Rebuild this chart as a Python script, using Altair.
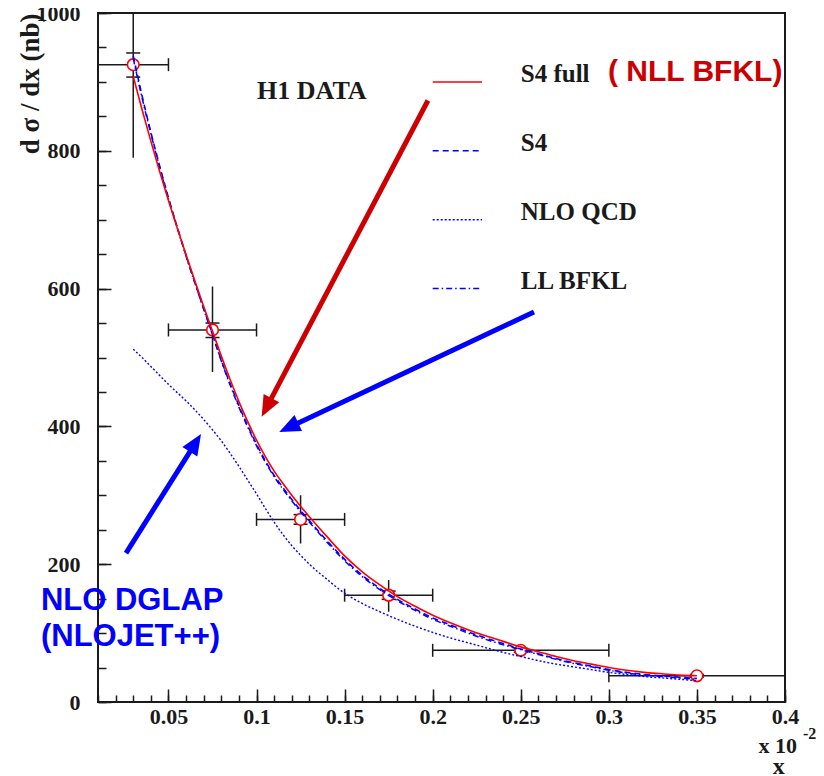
import math
import altair as alt
import pandas as pd

# ---------------- data ----------------
x_curve = [0.030, 0.035, 0.040, 0.045, 0.050, 0.055, 0.060, 0.065, 0.070, 0.075,
           0.080, 0.085, 0.090, 0.095, 0.100, 0.105, 0.110, 0.115, 0.120, 0.125,
           0.130, 0.140, 0.150, 0.160, 0.170, 0.180, 0.190, 0.200, 0.210, 0.220,
           0.230, 0.240, 0.250, 0.260, 0.270, 0.280, 0.290, 0.300, 0.310, 0.320,
           0.330, 0.340, 0.350]
s4full_y = [908, 860, 814, 770, 728, 688, 649, 611, 574, 538,
            502, 468, 436, 407, 380, 356, 335, 317, 300, 284,
            269, 240, 212, 189, 170, 153, 139, 126, 115, 105,
            96, 88, 80, 73, 66, 60, 55, 50, 46, 43,
            41, 39, 38]
s4_y = [938, 880, 827, 778, 732, 689, 648, 609, 571, 534,
        496, 462, 430, 401, 374, 350, 329, 311, 294, 278,
        263, 234, 207, 184, 165, 149, 135, 122, 112, 102,
        93, 85, 77, 70, 63, 57, 52, 47, 43, 40,
        38, 36, 34]
llbfkl_y = [934, 877, 825, 776, 730, 688, 647, 608, 570, 533,
            495, 460, 428, 399, 372, 348, 327, 309, 292, 276,
            261, 232, 205, 182, 163, 147, 133, 120, 110, 100,
            91, 83, 76, 69, 62, 56, 51, 46, 42, 39,
            37, 35, 33]
nloqcd_y = [512, 500, 487, 474, 461, 449, 437, 424, 410, 395,
            379, 361, 342, 322, 302, 281, 261, 243, 227, 213,
            200, 178, 158, 143, 131, 120, 110, 101, 93, 86,
            79, 72, 66, 60, 55, 51, 47, 43, 40, 37,
            35, 33, 31]

data_x = [0.03, 0.075, 0.125, 0.175, 0.25, 0.35]
data_y = [925, 540, 265, 155, 75, 38]
data_xlo = [0.01, 0.05, 0.10, 0.15, 0.20, 0.30]
data_xhi = [0.05, 0.10, 0.15, 0.20, 0.30, 0.40]
data_ylo = [790, 479, 230, 131, 72, 36]
data_yhi = [1060, 603, 300, 177, 78, 40]
stat_lo = [907, 529, 258, 149, 72, 36]
stat_hi = [942, 550, 272, 161, 78, 40]

legend_labels = ["S4 full", "S4", "NLO QCD", "LL BFKL"]

x_tick_major = [0.05, 0.1, 0.15, 0.2, 0.25, 0.3, 0.35, 0.4]
x_tick_minor = [round(0.01 * i, 2) for i in range(1, 41)]
y_tick_major = [0, 200, 400, 600, 800, 1000]
y_tick_minor = [50 * i for i in range(0, 21)]

# ---------------- layout ----------------
W, H = 687, 689
XDOM = [0.01, 0.4]
YDOM = [0, 1000]
SX = W / (XDOM[1] - XDOM[0])
SY = H / (YDOM[1] - YDOM[0])
SERIF = "Liberation Serif"
SANS = "Liberation Sans"
INK = "#1a1a1a"
RED = "#ff0000"
BLUE = "#0000ff"
DARKRED = "#cc0000"

legend_rows_y = [900, 800, 700, 600]
legend_x0, legend_x1, legend_text_x = 0.2, 0.228, 0.25

arrow_x0 = [0.1973, 0.2575, 0.0259]
arrow_y0 = [873, 566, 216]
arrow_x1 = [0.1029, 0.1129, 0.0685]
arrow_y1 = [414, 392, 389]
arrow_color = [DARKRED, BLUE, BLUE]
HEAD = 21


def xs():
    return alt.Scale(domain=XDOM, nice=False, zero=False)


def ys():
    return alt.Scale(domain=YDOM, nice=False, zero=False)


def X(f, axis=None):
    return alt.X(f, type="quantitative", scale=xs(), axis=axis)


def Y(f, axis=None):
    return alt.Y(f, type="quantitative", scale=ys(), axis=axis)


ax_x_labels = alt.Axis(values=x_tick_major, orient="bottom", ticks=False, tickSize=0,
                       domain=False, grid=False, labelFont=SERIF, labelFontWeight="bold",
                       labelFontSize=22, labelColor=INK, labelPadding=4, labelFlush=False,
                       labelOverlap=False, format="~g", title=None)
ax_y_labels = alt.Axis(values=y_tick_major, orient="left", ticks=False, tickSize=0,
                       domain=False, grid=False, labelFont=SERIF, labelFontWeight="bold",
                       labelFontSize=22, labelColor=INK, labelPadding=18, labelFlush=False,
                       labelOverlap=False, format="d",
                       title="d σ / dx (nb)", titleFont=SERIF, titleFontWeight="bold",
                       titleFontSize=27, titleColor=INK, titleAngle=270, titleAlign="right",
                       titleBaseline="middle", titleX=-68, titleY=0)
ax_x_minor = alt.Axis(values=x_tick_minor, orient="top", offset=-H, ticks=True, tickSize=7,
                      tickWidth=1.5, tickColor=INK, labels=False, domain=False, grid=False,
                      title=None)
ax_y_minor = alt.Axis(values=y_tick_minor, orient="right", offset=-W, ticks=True, tickSize=8,
                      tickWidth=1.5, tickColor=INK, labels=False, domain=False, grid=False,
                      title=None)
ax_x_major = alt.Axis(values=x_tick_major, orient="top", offset=-H, ticks=True, tickSize=13,
                      tickWidth=1.5, tickColor=INK, labels=False, domain=False, grid=False,
                      title=None)
ax_y_major = alt.Axis(values=y_tick_major, orient="right", offset=-W, ticks=True, tickSize=13,
                      tickWidth=1.5, tickColor=INK, labels=False, domain=False, grid=False,
                      title=None)

# ---------------- tables ----------------
pts = pd.DataFrame({"x": data_x, "y": data_y, "xlo": data_xlo, "xhi": data_xhi,
                    "ylo": data_ylo, "yhi": data_yhi, "slo": stat_lo, "shi": stat_hi})


def curve_df(yvals):
    return pd.DataFrame({"x": x_curve, "y": yvals})


arrows = []
for x0, y0, x1, y1, c in zip(arrow_x0, arrow_y0, arrow_x1, arrow_y1, arrow_color):
    dxp = (x1 - x0) * SX
    dyp = -(y1 - y0) * SY
    L = math.hypot(dxp, dyp)
    ux, uy = dxp / L, dyp / L
    ang = math.degrees(math.atan2(dxp, -dyp)) % 360
    back = HEAD * 0.75
    arrows.append({"x0": x0, "y0": y0, "x1": x1, "y1": y1,
                   "xe": x1 - ux * back / SX, "ye": y1 + uy * back / SY,
                   "angle": ang, "color": c})
arrows = pd.DataFrame(arrows)

legend_df = pd.DataFrame({"label": legend_labels, "y": legend_rows_y,
                          "x0": [legend_x0] * 4, "x1": [legend_x1] * 4,
                          "tx": [legend_text_x] * 4})

# ---------------- layers ----------------
layers = []

# axes carriers (invisible)
layers.append(alt.Chart(pts).mark_point(opacity=0).encode(
    x=X("x:Q", ax_x_labels), y=Y("y:Q", ax_y_labels)))
layers.append(alt.Chart(pts).mark_point(opacity=0).encode(
    x=X("x:Q", ax_x_minor), y=Y("y:Q", ax_y_minor)))
layers.append(alt.Chart(pts).mark_point(opacity=0).encode(
    x=X("x:Q", ax_x_major), y=Y("y:Q", ax_y_major)))

# error bars
layers.append(alt.Chart(pts).mark_rule(color=INK, strokeWidth=1.5).encode(
    x=X("xlo:Q"), x2="xhi:Q", y=Y("y:Q")))
layers.append(alt.Chart(pts).mark_rule(color=INK, strokeWidth=1.5, clip=True).encode(
    x=X("x:Q"), y=Y("ylo:Q"), y2="yhi:Q"))
for f in ["xlo", "xhi"]:
    layers.append(alt.Chart(pts).mark_tick(orient="vertical", size=13, thickness=1.5,
                                           color=INK, opacity=1).encode(
        x=X(f + ":Q"), y=Y("y:Q")))
for f in ["slo", "shi"]:
    layers.append(alt.Chart(pts).mark_tick(orient="horizontal", size=14, thickness=1.5,
                                           color=INK, opacity=1).encode(
        x=X("x:Q"), y=Y(f + ":Q")))
# markers
layers.append(alt.Chart(pts).mark_point(shape="circle", size=135, filled=True, fill="white",
                                        stroke=RED, strokeWidth=1.6, opacity=1).encode(
    x=X("x:Q"), y=Y("y:Q")))

# curves
layers.append(alt.Chart(curve_df(nloqcd_y)).mark_line(color=BLUE, strokeWidth=1.4,
                                                      strokeDash=[2, 2],
                                                      interpolate="monotone").encode(
    x=X("x:Q"), y=Y("y:Q")))
layers.append(alt.Chart(curve_df(llbfkl_y)).mark_line(color=BLUE, strokeWidth=1.5,
                                                      strokeDash=[6, 3, 1.5, 3],
                                                      interpolate="monotone").encode(
    x=X("x:Q"), y=Y("y:Q")))
layers.append(alt.Chart(curve_df(s4_y)).mark_line(color=BLUE, strokeWidth=1.6,
                                                  strokeDash=[6, 4],
                                                  interpolate="monotone").encode(
    x=X("x:Q"), y=Y("y:Q")))
layers.append(alt.Chart(curve_df(s4full_y)).mark_line(color=RED, strokeWidth=1.6,
                                                      interpolate="monotone").encode(
    x=X("x:Q"), y=Y("y:Q")))

# legend samples
dashes = [None, [6, 4], [2, 2], [6, 3, 1.5, 3]]
colors = [RED, BLUE, BLUE, BLUE]
for i in range(4):
    kw = {"color": colors[i], "strokeWidth": 1.5}
    if dashes[i] is not None:
        kw["strokeDash"] = dashes[i]
    layers.append(alt.Chart(legend_df.iloc[[i]]).mark_rule(**kw).encode(
        x=X("x0:Q"), x2="x1:Q", y=Y("y:Q")))
layers.append(alt.Chart(legend_df).mark_text(align="left", baseline="alphabetic", font=SERIF,
                                             fontWeight="bold", fontSize=25, color=INK).encode(
    x=X("tx:Q"), y=Y("y:Q"), text="label:N"))

# annotations
ann_serif = pd.DataFrame({"t": ["H1 DATA"], "x": [0.1003], "y": [875]})
layers.append(alt.Chart(ann_serif).mark_text(align="left", baseline="alphabetic", font=SERIF,
                                             fontWeight="bold", fontSize=26, color=INK).encode(
    x=X("x:Q"), y=Y("y:Q"), text="t:N"))
ann_red = pd.DataFrame({"t": ["( NLL BFKL)"], "x": [0.2995], "y": [902]})
layers.append(alt.Chart(ann_red).mark_text(align="left", baseline="alphabetic", font=SANS,
                                           fontWeight="bold", fontSize=30, color=DARKRED).encode(
    x=X("x:Q"), y=Y("y:Q"), text="t:N"))
ann_blue = pd.DataFrame({"t": ["NLO DGLAP", "(NLOJET++)"], "x": [-0.0224, -0.0224],
                         "y": [133.5, 81]})
layers.append(alt.Chart(ann_blue).mark_text(align="left", baseline="alphabetic", font=SANS,
                                            fontWeight="bold", fontSize=31, color=BLUE).encode(
    x=X("x:Q"), y=Y("y:Q"), text="t:N"))
ann_exp = pd.DataFrame({"t": ["x 10"], "x": [0.4068], "y": [-74]})
layers.append(alt.Chart(ann_exp).mark_text(align="right", baseline="alphabetic", font=SERIF,
                                           fontWeight="bold", fontSize=22, color=INK).encode(
    x=X("x:Q"), y=Y("y:Q"), text="t:N"))
ann_pow = pd.DataFrame({"t": ["-2"], "x": [0.4102], "y": [-54]})
layers.append(alt.Chart(ann_pow).mark_text(align="left", baseline="alphabetic", font=SERIF,
                                           fontWeight="bold", fontSize=16, color=INK).encode(
    x=X("x:Q"), y=Y("y:Q"), text="t:N"))
ann_xt = pd.DataFrame({"t": ["x"], "x": [0.3965], "y": [-104]})
layers.append(alt.Chart(ann_xt).mark_text(align="center", baseline="alphabetic", font=SERIF,
                                          fontWeight="bold", fontSize=24, color=INK).encode(
    x=X("x:Q"), y=Y("y:Q"), text="t:N"))

# arrows
layers.append(alt.Chart(arrows).mark_rule(strokeWidth=5, strokeCap="butt").encode(
    x=X("x0:Q"), y=Y("y0:Q"), x2="xe:Q", y2="ye:Q",
    color=alt.Color("color:N", scale=None)))
layers.append(alt.Chart(arrows).mark_point(shape="M0,0L0.42,1L-0.42,1Z", filled=True,
                                           size=4 * HEAD * HEAD, opacity=1, strokeWidth=0).encode(
    x=X("x1:Q"), y=Y("y1:Q"), angle=alt.Angle("angle:Q", scale=None),
    color=alt.Color("color:N", scale=None)))

chart = alt.layer(*layers).resolve_scale(
    x="independent", y="independent", color="independent"
).properties(
    width=W, height=H,
    padding={"left": 90, "top": 5, "right": 31, "bottom": 74},
    autosize=alt.AutoSizeParams(type="none"),
    background="white",
).configure_view(stroke=INK, strokeWidth=2)

chart.save("out.html", embed_options={"renderer": "svg", "actions": False})
